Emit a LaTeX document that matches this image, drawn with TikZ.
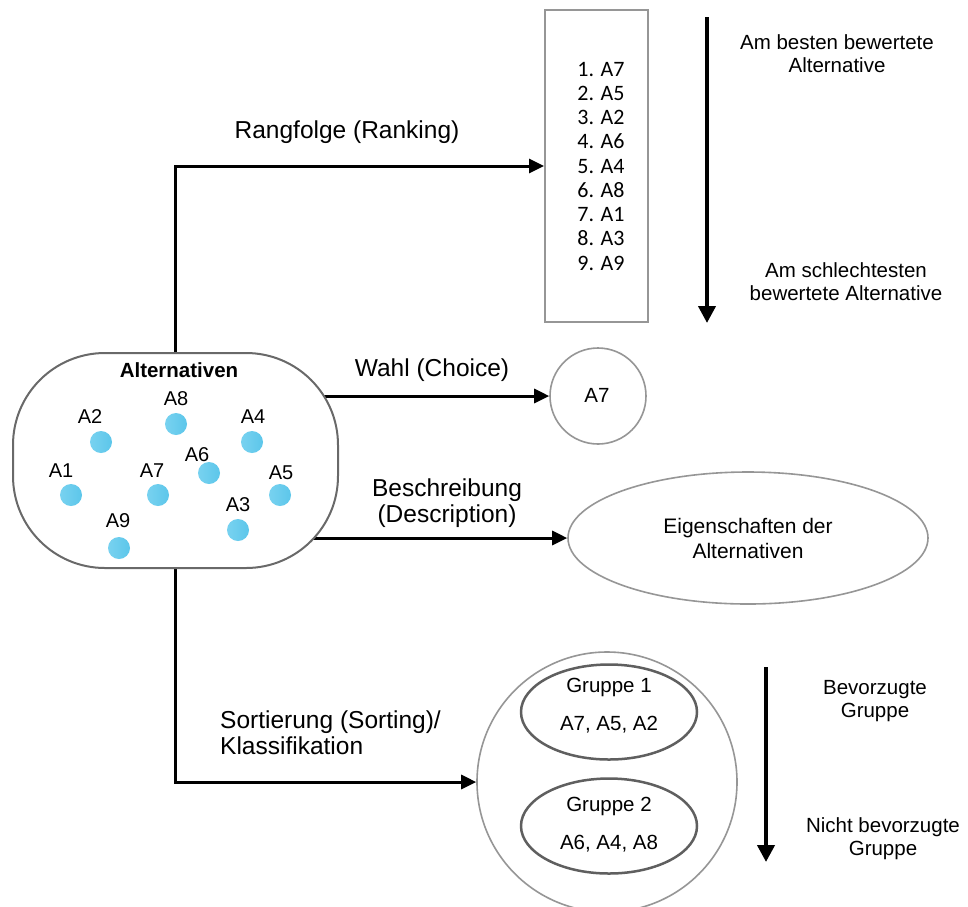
\documentclass[tikz,border=0pt]{standalone}
\usepackage{fontspec}
\setmainfont{Liberation Sans}
\newfontfamily\listfont{Carlito}
\usetikzlibrary{arrows.meta,backgrounds,shapes.geometric}

\definecolor{dotblue}{RGB}{120,210,240}
\definecolor{dotbluedark}{RGB}{92,198,234}
\definecolor{framegray}{RGB}{105,105,105}
\definecolor{lightframe}{RGB}{150,150,150}
\definecolor{groupgray}{RGB}{95,95,95}

\tikzset{
  bigtxt/.style={font=\fontsize{24.5}{26}\selectfont, align=center, inner sep=0pt},
  smalltxt/.style={font=\fontsize{20.5}{23}\selectfont, align=center, inner sep=0pt},
  conn/.style={line width=3pt, -{Triangle[length=15pt,width=14pt]}},
  scalearrow/.style={line width=4pt, -{Triangle[length=17pt,width=17pt]}},
  altdot/.style={circle, left color=dotblue, right color=dotbluedark, minimum size=22pt, inner sep=0pt},
  dotlabel/.style={font=\fontsize{20}{23}\selectfont, inner sep=0pt},
  poolbox/.style={draw=framegray, line width=2pt, fill=white, rounded corners=92pt,
    minimum width=325pt, minimum height=215pt, inner sep=0pt},
  rankbox/.style={draw=lightframe, line width=2pt, fill=white,
    minimum width=103pt, minimum height=312pt, inner sep=0pt},
  thinframe/.style={draw=lightframe, line width=1.6pt, fill=white, inner sep=0pt},
  groupframe/.style={ellipse, draw=groupgray, line width=2.5pt, fill=white,
    minimum width=176pt, minimum height=95pt, inner sep=0pt},
}

\begin{document}
\begin{tikzpicture}[x=1pt, y=-1pt]
\useasboundingbox (0,0) rectangle (968,906);
\clip (0,0) rectangle (968,906);

% pool of alternatives
\node[poolbox] (alt) at (175.5,460.5) {};
\node[font=\bfseries\fontsize{20.5}{23}\selectfont, inner sep=0pt] (alttitle) at (179,370) {Alternativen};

\foreach \nm/\dx/\dy/\lx/\ly in {A2/101/442/90/417, A8/176/424/176/399, A4/252/442/253/417,
  A1/71/495/61/471, A7/158/495/152/471, A6/209/473/197/455, A5/280/495/281/473,
  A3/238/530/238/505, A9/119/548/118/521}{
  \node[altdot] (dot\nm) at (\dx,\dy) {};
  \node[dotlabel] (lab\nm) at (\lx,\ly) {\nm};
}

% ranking
\node[rankbox] (rank) at (596.5,166) {};
\node[inner sep=0pt, align=left, font=\listfont\fontsize{22}{24.25}\selectfont] (ranklist) at (601,166)
  {1. A7\\2. A5\\3. A2\\4. A6\\5. A4\\6. A8\\7. A1\\8. A3\\9. A9};

% choice
\node[thinframe, circle, minimum size=96pt] (choice) at (598,396) {};
\node[font=\fontsize{20.5}{23}\selectfont, inner sep=0pt] (choicetxt) at (597,395) {A7};

% description
\node[thinframe, ellipse, minimum width=360pt, minimum height=132pt,
  font=\fontsize{21}{25}\selectfont, align=center] (desc) at (748,538)
  {Eigenschaften der\\Alternativen};

% sorting
\node[thinframe, circle, minimum size=260pt] (sortc) at (607,782) {};
\node[groupframe] (g1) at (609,712) {};
\node[groupframe] (g2) at (609,826) {};
\node[smalltxt, font=\fontsize{20.5}{38}\selectfont] (g1txt) at (609,706) {Gruppe 1\\A7, A5, A2};
\node[smalltxt, font=\fontsize{20.5}{38}\selectfont] (g2txt) at (609,825) {Gruppe 2\\A6, A4, A8};

% connector labels
\node[bigtxt] (lrank) at (347,132) {Rangfolge (Ranking)};
\node[bigtxt] (lchoice) at (432,370) {Wahl (Choice)};
\node[bigtxt] (ldesc) at (447,503) {Beschreibung\\(Description)};
\node[bigtxt, align=left, anchor=west] (lsort) at (220,733) {Sortierung (Sorting)/\\Klassifikation};

% connectors behind the boxes
\begin{scope}[on background layer]
  \draw[conn] (alt.north) |- (rank.west);
  \draw[conn] (alt.center |- choice.west) -- (choice.west);
  \draw[conn] (alt.center |- desc.west) -- (desc.west);
  \draw[conn] (alt.south) |- (sortc.west);
\end{scope}

% order scales
\coordinate (rtop) at (707,17);
\coordinate (rbot) at (707,323);
\draw[scalearrow] (rtop) -- (rbot);
\node[smalltxt] (best) at (837,54) {Am besten bewertete\\Alternative};
\node[smalltxt] (worst) at (846,282) {Am schlechtesten\\bewertete Alternative};

\coordinate (gtop) at (766,667);
\coordinate (gbot) at (766,862);
\draw[scalearrow] (gtop) -- (gbot);
\node[smalltxt] (pref) at (875,701) {Bevorzugte\\Gruppe};
\node[smalltxt] (nonpref) at (883,839) {Nicht bevorzugte\\Gruppe};
\end{tikzpicture}
\end{document}
